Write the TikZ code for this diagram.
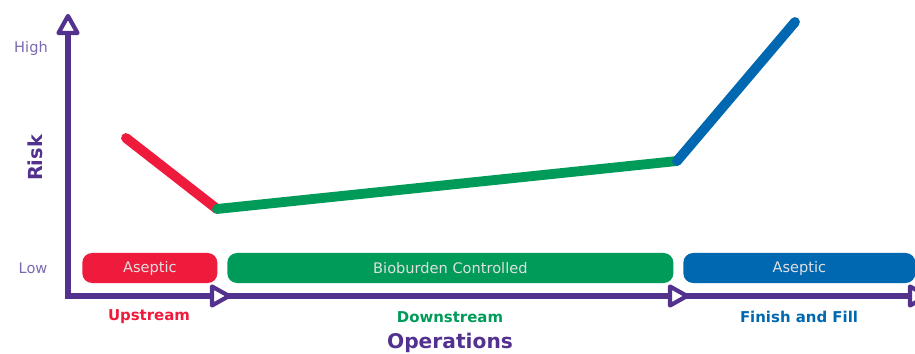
\documentclass[tikz,border=0pt]{standalone}
\usepackage{fontspec}
\setmainfont{DejaVu Sans}

\definecolor{axispurple}{HTML}{52318F}
\definecolor{lowpurple}{HTML}{7B69B1}
\definecolor{riskred}{HTML}{EE1B3C}
\definecolor{riskgreen}{HTML}{009B58}
\definecolor{riskblue}{HTML}{0067B1}

\tikzset{
	axis/.style={draw=axispurple, line width=2.9pt, line cap=rect},
	marker/.style={draw=axispurple, fill=white, line width=2.4pt, line join=round},
	trend/.style={line width=5.6pt, line cap=round, line join=round},
	phase/.style={rounded corners=5.5pt, minimum height=30*0.02cm,
		inner sep=0pt, anchor=west, text=white!88!black,
		font=\fontsize{8.3}{10}\selectfont},
	level/.style={text=lowpurple, font=\fontsize{8.3}{10}\selectfont},
	stage/.style={font=\fontsize{8.5}{10}\selectfont\bfseries}
}

\begin{document}
\begin{tikzpicture}[x=0.02cm, y=-0.02cm]
	\useasboundingbox (0,0) rectangle (915,354);

	% axes
	\coordinate (origin) at (68,296);
	\coordinate (ytop) at (68,25);
	\coordinate (xend) at (918,296);
	\draw[axis] (ytop) -- (origin) -- (xend);
	\draw[marker] (ytop) ++(0,-9) -- ++(9.5,17) -- ++(-19,0) -- cycle;
	\foreach \x in {220,678,918}
		\draw[marker] (\x,296) ++(9,0) -- ++(-17,-9.5) -- ++(0,19) -- cycle;

	% phase bars
	\node[phase, fill=riskred, minimum width=135*0.02cm] (up) at (82,268) {Aseptic};
	\node[phase, fill=riskgreen, minimum width=446*0.02cm] (down) at (227,268) {Bioburden Controlled};
	\node[phase, fill=riskblue, minimum width=232*0.02cm] (fill) at (683,268) {Aseptic};

	% risk curve
	\coordinate (r0) at (126,138);
	\coordinate (r1) at (217,209);
	\coordinate (r2) at (677,161);
	\coordinate (r3) at (795,22);
	\draw[trend, riskred] (r0) -- (r1);
	\draw[trend, riskgreen] (r1) -- (r2);
	\draw[trend, riskblue] (r2) -- (r3);

	% labels
	\node[level] (high) at (31,48) {High};
	\node[level] (low) at (33,268) {Low};
	\node[rotate=90, text=axispurple, font=\fontsize{11}{13}\selectfont\bfseries] (risk) at (35,158) {Risk};
	\node[stage, text=riskred] (uplab) at (149,317) {Upstream};
	\node[stage, text=riskgreen] (downlab) at (450,317) {Downstream};
	\node[stage, text=riskblue] (filllab) at (799,317) {Finish and Fill};
	\node[text=axispurple, font=\fontsize{11.5}{13}\selectfont\bfseries] (ops) at (450,343) {Operations};
\end{tikzpicture}
\end{document}
